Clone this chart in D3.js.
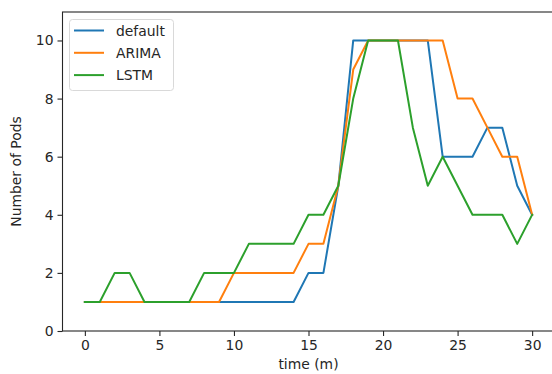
<!DOCTYPE html>
<html>
<head>
<meta charset="utf-8">
<script src="https://cdn.jsdelivr.net/npm/d3@7"></script>
<style>
  html, body { margin: 0; padding: 0; background: #fff; }
  svg { display: block; font-family: "DejaVu Sans", sans-serif; }
</style>
</head>
<body>
<svg id="chart" width="552" height="374"></svg>
<script>
// Pod count over time for three autoscaling strategies
const times = d3.range(0, 31);
const seriesNames = ["default", "ARIMA", "LSTM"];
const defaultPods = [1,1,1,1,1,1,1,1,1,1,1,1,1,1,1,2,2,5,10,10,10,10,10,10,6,6,6,7,7,5,4];
const arimaPods   = [1,1,1,1,1,1,1,1,1,1,2,2,2,2,2,3,3,5,9,10,10,10,10,10,10,8,8,7,6,6,4];
const lstmPods    = [1,1,2,2,1,1,1,1,2,2,2,3,3,3,3,4,4,5,8,10,10,10,7,5,6,5,4,4,4,3,4];
const xTicks = [0, 5, 10, 15, 20, 25, 30];
const yTicks = [0, 2, 4, 6, 8, 10];
const colors = ["#1f77b4", "#ff7f0e", "#2ca02c"];

const svg = d3.select("#chart");
const plotLeft = 62.5, plotRight = 554.5, plotTop = 12, plotBottom = 331;

const x = d3.scaleLinear().domain([-1.5, 31.5]).range([plotLeft, plotRight]);
const y = d3.scaleLinear().domain([0, 10.98]).range([plotBottom, plotTop]);

const fs = 13.9;
const ink = "#262626";

// axes
const xAxis = svg.append("g")
  .attr("transform", `translate(0,${plotBottom})`)
  .call(d3.axisBottom(x).tickValues(xTicks).tickSize(5).tickPadding(4));
const yAxis = svg.append("g")
  .attr("transform", `translate(${plotLeft},0)`)
  .call(d3.axisLeft(y).tickValues(yTicks).tickSize(5).tickPadding(4));
[xAxis, yAxis].forEach(g => {
  g.select(".domain").remove();
  g.selectAll(".tick line").attr("stroke", ink).attr("stroke-width", 1.1);
  g.selectAll(".tick text").attr("fill", ink).attr("font-size", fs)
    .attr("font-family", "DejaVu Sans, sans-serif");
});

// spines
svg.append("rect")
  .attr("x", plotLeft).attr("y", plotTop)
  .attr("width", plotRight - plotLeft).attr("height", plotBottom - plotTop)
  .attr("fill", "none").attr("stroke", ink).attr("stroke-width", 1.1);

// lines
const line = d3.line().x((d, i) => x(times[i])).y(d => y(d));
const allSeries = [defaultPods, arimaPods, lstmPods];
allSeries.forEach((vals, k) => {
  svg.append("path")
    .datum(vals)
    .attr("d", line)
    .attr("fill", "none")
    .attr("stroke", colors[k])
    .attr("stroke-width", 2)
    .attr("stroke-linejoin", "round")
    .attr("stroke-linecap", "square");
});

// axis labels
svg.append("text")
  .attr("x", (plotLeft + plotRight) / 2).attr("y", 369)
  .attr("text-anchor", "middle").attr("font-size", fs).attr("fill", ink)
  .text("time (m)");
svg.append("text")
  .attr("transform", `translate(21,${(plotTop + plotBottom) / 2}) rotate(-90)`)
  .attr("text-anchor", "middle").attr("font-size", fs).attr("fill", ink)
  .text("Number of Pods");

// legend
const lg = svg.append("g");
lg.append("rect")
  .attr("x", 69.5).attr("y", 19.5).attr("width", 104).attr("height", 71)
  .attr("rx", 3).attr("fill", "#fff").attr("fill-opacity", 0.8)
  .attr("stroke", "#d9d9d9").attr("stroke-width", 1);
seriesNames.forEach((name, k) => {
  const cy = 30.5 + k * 22.3;
  lg.append("line")
    .attr("x1", 74).attr("x2", 104).attr("y1", cy).attr("y2", cy)
    .attr("stroke", colors[k]).attr("stroke-width", 2);
  lg.append("text")
    .attr("x", 116).attr("y", cy + 5)
    .attr("font-size", fs).attr("fill", ink)
    .text(name);
});
</script>
</body>
</html>
